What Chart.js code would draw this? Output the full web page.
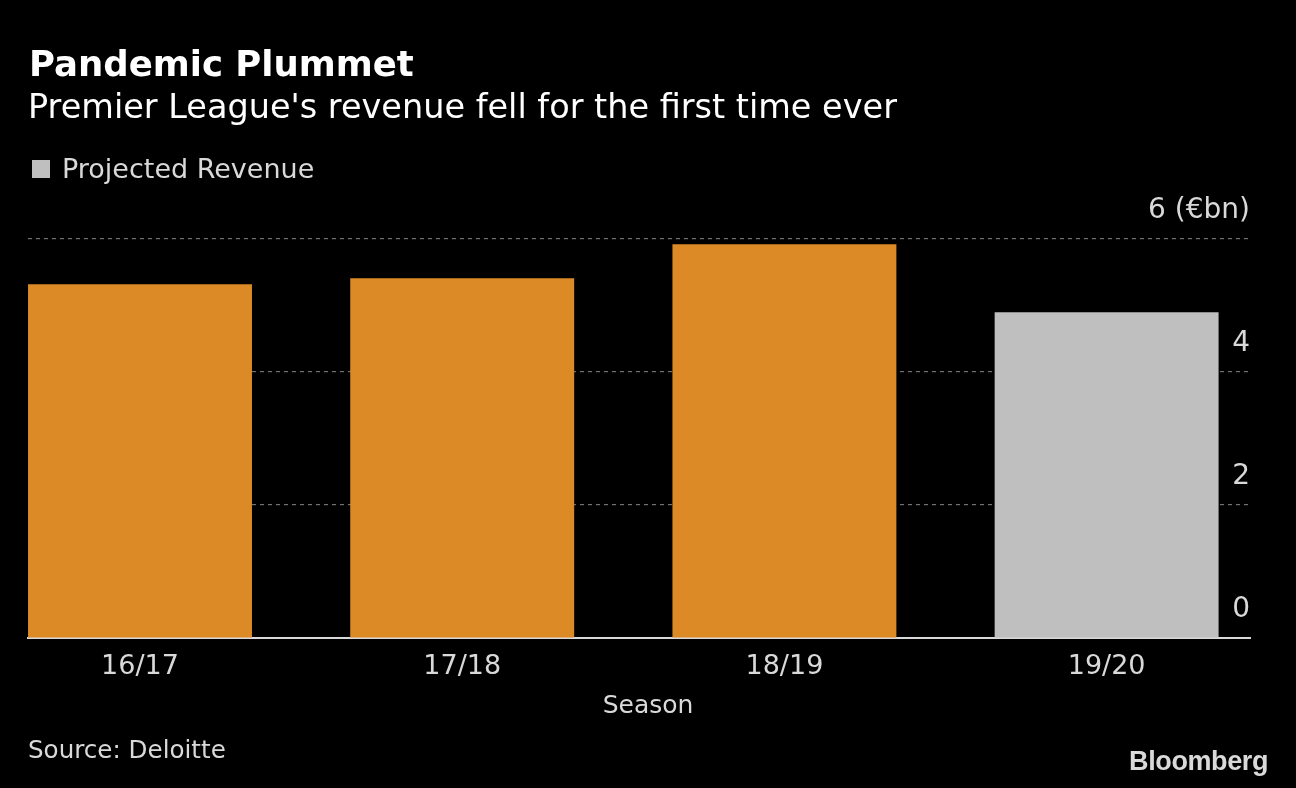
<!DOCTYPE html>
<html>
<head>
<meta charset="utf-8">
<script src="https://cdn.jsdelivr.net/npm/chart.js@4/dist/chart.umd.min.js"></script>
<style>
  html, body { margin: 0; padding: 0; background: #000; }
  body { width: 1296px; height: 788px; position: relative; overflow: hidden; font-family: 'DejaVu Sans', sans-serif; }
  .txt { position: absolute; line-height: 1; white-space: nowrap; }
  #title { left: 29px; top: 46px; font-size: 35.5px; font-weight: bold; color: #fff; }
  #subtitle { left: 28px; top: 90px; font-size: 33.5px; color: #fff; }
  #legend { left: 62px; top: 155px; font-size: 27px; color: #d9d9d9; }
  #legendBox { position: absolute; left: 32px; top: 160px; width: 18px; height: 18px; background: #bfbfbf; }
  #xTitle { left: 648px; top: 692px; transform: translateX(-50%); font-size: 25px; color: #d9d9d9; }
  #source { left: 28px; top: 738px; font-size: 24.6px; color: #d9d9d9; }
  #brand { right: 28px; top: 748px; font-family: 'Liberation Sans', Arial, sans-serif; font-size: 27px; font-weight: bold; color: #d9d9d9; letter-spacing: -0.4px; }
  #wrap { position: absolute; left: 0; top: 0; width: 1296px; height: 788px; }
</style>
</head>
<body>
<div id="wrap"><canvas id="chart" width="1296" height="788"></canvas></div>
<div class="txt" id="title">Pandemic Plummet</div>
<div class="txt" id="subtitle">Premier League's revenue fell for the first time ever</div>
<div id="legendBox"></div>
<div class="txt" id="legend">Projected Revenue</div>
<div class="txt" id="xTitle">Season</div>
<div class="txt" id="source">Source: Deloitte</div>
<div class="txt" id="brand">Bloomberg</div>
<script>
document.addEventListener('DOMContentLoaded', function () {
    // Season data (Deloitte, €bn)
    const seasons = ['16/17', '17/18', '18/19', '19/20'];
    const revenue = [5.32, 5.41, 5.92, 4.9];
    const projected = [false, false, false, true];
    const yTicks = [0, 2, 4, 6];
    const yUnit = '(€bn)';

    const orange = '#dc8a26';
    const grey = '#bfbfbf';
    const textColor = '#d9d9d9';

    const ctx = document.getElementById('chart').getContext('2d');
    const chart = new Chart(ctx, {
        type: 'bar',
        data: {
            datasets: [{
                label: 'Revenue',
                data: revenue.map((v, i) => ({ x: i, y: v })),
                backgroundColor: projected.map(p => p ? grey : orange),
                borderWidth: 0,
                barPercentage: 0.695,
                categoryPercentage: 1
            }]
        },
        options: {
            responsive: false,
            animation: false,
            layout: { padding: { left: 28, top: 239, right: 0, bottom: 67 } },
            plugins: {
                legend: { display: false },
                tooltip: { enabled: false }
            },
            scales: {
                x: {
                    type: 'linear',
                    offset: false,
                    min: -0.3476,
                    max: 3.445,
                    grid: { display: false },
                    border: { display: true, color: textColor, width: 2 },
                    ticks: {
                        stepSize: 1,
                        includeBounds: false,
                        autoSkip: false,
                        maxRotation: 0,
                        padding: 5,
                        color: textColor,
                        font: { family: 'DejaVu Sans', size: 27 },
                        callback: function (value) {
                            return Number.isInteger(value) ? (seasons[value] || '') : '';
                        }
                    },
                    afterFit: function (scale) { scale.height = 83; }
                },
                y: {
                    position: 'right',
                    min: 0,
                    max: 6,
                    afterBuildTicks: function (scale) {
                        scale.ticks = yTicks.map(v => ({ value: v }));
                    },
                    grid: {
                        drawTicks: false,
                        lineWidth: 1.2,
                        color: function (c) {
                            return c.tick && c.tick.value === 0 ? 'rgba(0,0,0,0)' : '#707070';
                        }
                    },
                    border: { display: false, dash: [4, 4] },
                    ticks: {
                        mirror: true,
                        padding: 0,
                        labelOffset: -28,
                        color: textColor,
                        font: { family: 'DejaVu Sans', size: 28 },
                        callback: function (value) {
                            return value === yTicks[yTicks.length - 1] ? value + ' ' + yUnit : String(value);
                        }
                    },
                    afterFit: function (scale) { scale.width = 46; }
                }
            }
        }
    });
});
</script>
</body>
</html>
